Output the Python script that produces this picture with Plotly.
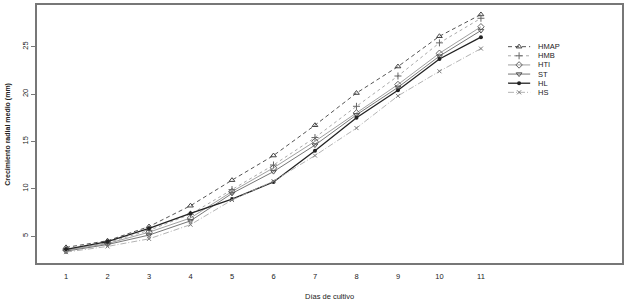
import plotly.graph_objects as go

dias = [1, 2, 3, 4, 5, 6, 7, 8, 9, 10, 11]
series_names = ["HMAP", "HMB", "HTI", "ST", "HL", "HS"]
HMAP = [3.8, 4.5, 6.0, 8.2, 10.9, 13.5, 16.7, 20.1, 22.9, 26.1, 28.4]
HMB = [3.6, 4.3, 5.6, 7.3, 9.9, 12.5, 15.4, 18.7, 21.9, 25.4, 28.0]
HTI = [3.5, 4.2, 5.4, 6.9, 9.7, 12.2, 15.0, 18.0, 21.0, 24.3, 27.1]
ST = [3.4, 4.1, 5.1, 6.6, 9.5, 11.8, 14.6, 17.8, 20.7, 24.0, 26.7]
HL = [3.6, 4.4, 5.8, 7.4, 8.9, 10.7, 14.0, 17.5, 20.4, 23.7, 26.0]
HS = [3.3, 3.9, 4.7, 6.2, 8.8, 10.8, 13.5, 16.4, 19.8, 22.4, 24.8]
values = [HMAP, HMB, HTI, ST, HL, HS]
y_ticks = [5, 10, 15, 20, 25]

TXT = "#222222"

styles = {
    "HMAP": dict(line=dict(color="#555", width=1, dash="4px,3px"),
                 marker=dict(symbol="triangle-up-open", size=5, color="#444")),
    "HMB": dict(line=dict(color="#aaa", width=1, dash="dot"),
                marker=dict(symbol="cross-thin-open", size=5, color="#666", line=dict(width=1, color="#666"))),
    "HTI": dict(line=dict(color="#888", width=0.8, dash="solid"),
                marker=dict(symbol="diamond-open", size=5, color="#666")),
    "ST": dict(line=dict(color="#666", width=0.9, dash="solid"),
               marker=dict(symbol="triangle-down-open", size=5, color="#555")),
    "HL": dict(line=dict(color="#222", width=1.3, dash="solid"),
               marker=dict(symbol="circle", size=4, color="#222")),
    "HS": dict(line=dict(color="#aaa", width=0.9, dash="6px,2px,1px,2px"),
               marker=dict(symbol="x-thin-open", size=4, color="#777", line=dict(width=1, color="#777"))),
}

fig = go.Figure()
for name, vals in zip(series_names, values):
    fig.add_trace(go.Scatter(x=dias, y=vals, name=name, mode="lines+markers",
                             showlegend=False, **styles[name]))

# Manual legend drawn on a hidden overlay axis (rows 0..5)
for i, name in enumerate(series_names):
    st = styles[name]
    fig.add_trace(go.Scatter(x=[0, 2], y=[i, i], mode="lines", line=st["line"],
                             xaxis="x2", yaxis="y2", showlegend=False, hoverinfo="skip"))
    fig.add_trace(go.Scatter(x=[1], y=[i], mode="markers", marker=st["marker"],
                             xaxis="x2", yaxis="y2", showlegend=False, hoverinfo="skip"))
    fig.add_annotation(x=2.5, y=i, xref="x2", yref="y2", text=name, showarrow=False,
                       xanchor="left", yanchor="middle", font=dict(size=7.5, color=TXT))

fig.update_layout(
    template="none",
    width=627, height=300,
    margin=dict(l=37, r=5, t=5, b=37, autoexpand=False),
    paper_bgcolor="white", plot_bgcolor="white",
    font=dict(family="Liberation Sans, Arial, sans-serif", color=TXT, size=7.5),
    showlegend=False,
    xaxis2=dict(domain=[(508 - 37) / 585, (600 - 37) / 585], range=[0, 8.3],
                visible=False, anchor="y2", fixedrange=True),
    yaxis2=dict(domain=[(263 - 96) / 258, (263 - 43) / 258], range=[5.4, -0.4],
                visible=False, anchor="x2", fixedrange=True),
    xaxis=dict(range=[0.3, 14.4], tickvals=dias, ticktext=[str(d) for d in dias],
               showgrid=False, zeroline=False, showline=True, mirror=True,
               linecolor="#777", linewidth=1.5, ticks="outside", ticklen=5,
               tickcolor="rgba(0,0,0,0)", automargin=False,
               tickfont=dict(color=TXT, size=7.5)),
    yaxis=dict(range=[2.15, 29.4], tickvals=y_ticks,
               showgrid=False, zeroline=False, showline=True, mirror=True,
               linecolor="#777", linewidth=1.5, ticks="outside", ticklen=4, tickcolor="#777",
               tickangle=-90, automargin=False, tickfont=dict(color=TXT, size=7.5)),
)
fig.add_annotation(x=0.5, y=-0.105, xref="paper", yref="paper", yanchor="top",
                   text="Días de cultivo", showarrow=False, font=dict(size=7.5, color=TXT))
fig.add_annotation(x=-0.05, y=0.5, xref="paper", yref="paper", xanchor="center",
                   text="<b>Crecimiento radial medio (mm)</b>", showarrow=False,
                   textangle=-90, font=dict(size=7, color=TXT))
fig.write_html("out.html", config={"displayModeBar": False},
               post_script="document.body.style.margin='0';document.body.style.overflow='hidden';")
